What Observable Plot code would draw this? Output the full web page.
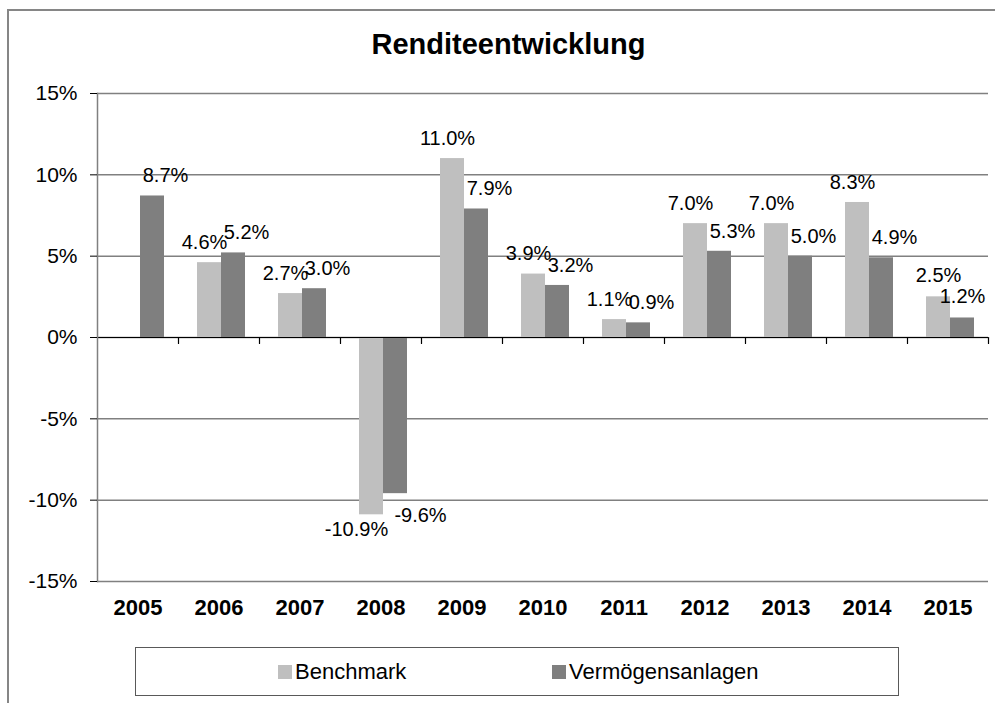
<!DOCTYPE html>
<html>
<head>
<meta charset="utf-8">
<script src="https://cdn.jsdelivr.net/npm/d3@7"></script>
<script src="https://cdn.jsdelivr.net/npm/@observablehq/plot@0.6"></script>
<style>
  body { margin: 0; background: #fff; font-family: "Liberation Sans", Arial, sans-serif; }
  #wrap { position: relative; width: 995px; height: 703px; overflow: hidden; background: #fff; }
  #border { position: absolute; left: 7px; top: 9px; width: 1000px; height: 720px;
            border-left: 2px solid #868686; border-top: 2px solid #868686; box-sizing: border-box; }
  #title { position: absolute; left: 0; width: 1017px; top: 30px; text-align: center;
           font-weight: bold; font-size: 29px; line-height: 28px; color: #000; }
  #chart { position: absolute; left: 0; top: 0; }
  #legend { position: absolute; left: 135px; top: 647px; width: 764px; height: 49px;
            border: 1.5px solid #595959; box-sizing: border-box; }
  .item { position: absolute; top: 0; height: 100%; display: flex; align-items: center;
          font-size: 22px; line-height: 22px; color: #000; }
  .sw { width: 14px; height: 14px; margin-right: 3px; }
</style>
</head>
<body>
<div id="wrap">
  <div id="border"></div>
  <div id="title"></div>
  <div id="chart"></div>
  <div id="legend"></div>
</div>
<script>
// ---- data ----
const titleText = "Renditeentwicklung";
const years = ["2005", "2006", "2007", "2008", "2009", "2010", "2011", "2012", "2013", "2014", "2015"];
const seriesNames = ["Benchmark", "Vermögensanlagen"];
const benchmark = [null, 4.6, 2.7, -10.9, 11.0, 3.9, 1.1, 7.0, 7.0, 8.3, 2.5];
const vermoegen = [8.7, 5.2, 3.0, -9.6, 7.9, 3.2, 0.9, 5.3, 5.0, 4.9, 1.2];
const yTicks = [-15, -10, -5, 0, 5, 10, 15];
const seriesColors = ["#bfbfbf", "#7f7f7f"];

// ---- table ----
const rows = years.flatMap((yr, i) => [
  {year: yr, series: seriesNames[0], value: benchmark[i]},
  {year: yr, series: seriesNames[1], value: vermoegen[i]}
]).filter(d => d.value != null);

const fmt = d => d.value.toFixed(1) + "%";
const isB = d => d.series === seriesNames[0];
const lastYear = years[years.length - 1];
const inner = d => d.year !== lastYear;   // labels at the right edge stay centred

document.getElementById("title").textContent = titleText;

const font = "'Liberation Sans', Arial, sans-serif";
const lbl = (filter, dx, dy) => Plot.text(rows.filter(filter), {
  fx: "year", x: "series", y: "value", text: fmt, dx, dy, fontSize: 20, fill: "#000"
});

const chart = Plot.plot({
  width: 995,
  height: 640,
  marginTop: 93,
  marginBottom: 59,
  marginLeft: 92,
  marginRight: 2,
  style: {fontFamily: font, fontSize: "19px", color: "#000", background: "transparent", overflow: "visible"},
  fx: {domain: years, padding: 0, label: null},
  x: {domain: seriesNames, paddingInner: 0, paddingOuter: 0.673, align: 0.585, axis: null},
  y: {domain: [-15, 15], label: null},
  color: {domain: seriesNames, range: seriesColors},
  marks: [
    Plot.gridY(yTicks, {stroke: "#808080", strokeOpacity: 1, strokeWidth: 1.5}),
    Plot.barY(rows, {fx: "year", x: "series", y1: 0, y2: "value", fill: "series"}),
    Plot.ruleY([0], {stroke: "#000", strokeWidth: 1.2}),
    Plot.frame({anchor: "left", facetAnchor: "left", stroke: "#808080", strokeWidth: 1.5}),
    Plot.vector([0], {y: d => d, frameAnchor: "right", length: 6, rotate: 180, anchor: "start",
      stroke: "#000", strokeWidth: 1.2,
      shape: {draw(ctx, l) { ctx.moveTo(0, 0); ctx.lineTo(0, -l); }}}),
    Plot.axisY({ticks: yTicks, tickFormat: d => d + "%", tickSize: 7, tickPadding: 13,
      fontSize: 21, stroke: "#000", label: null}),
    Plot.axisFx({anchor: "bottom", tickSize: 0, tickPadding: 18, fontSize: 22,
      fontWeight: "bold", label: null}),
    lbl(d => isB(d) && d.value >= 0 && inner(d), -5, -20),
    lbl(d => isB(d) && d.value < 0, -15, 15),
    lbl(d => !isB(d) && d.value >= 0 && inner(d), 13, -20),
    lbl(d => !isB(d) && d.value < 0, 25, 22),
    lbl(d => !inner(d), 0, -21)
  ]
});
document.getElementById("chart").appendChild(chart);

// ---- legend ----
const legend = document.getElementById("legend");
const legendLeft = [142, 416];
seriesNames.forEach((name, i) => {
  const item = document.createElement("div");
  item.className = "item";
  item.style.left = legendLeft[i] + "px";
  const sw = document.createElement("span");
  sw.className = "sw";
  sw.style.background = seriesColors[i];
  const tx = document.createElement("span");
  tx.textContent = name;
  item.appendChild(sw);
  item.appendChild(tx);
  legend.appendChild(item);
});
</script>
</body>
</html>
